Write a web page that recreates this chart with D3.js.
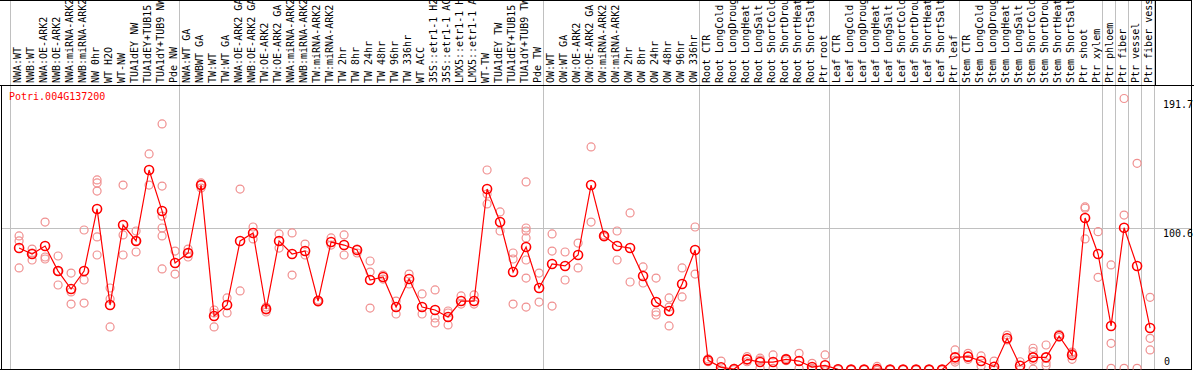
<!DOCTYPE html>
<html>
<head>
<meta charset="utf-8">
<script src="https://cdn.jsdelivr.net/npm/d3@7"></script>
<style>
  body { margin: 0; background: #fff; }
  text { font-family: "DejaVu Sans Mono", monospace; font-size: 10px; }
</style>
</head>
<body>
<div id="chart"></div>
<script>
// sample names, one column each
var labels = ["NWA:WT","NWB:WT","NWA:OE-ARK2","NWB:OE-ARK2","NWA:miRNA-ARK2","NWB:miRNA-ARK2","NW 0hr","WT H2O","WT-NW","TUA1dEY NW","TUA1dEY+TUB15 NW","TUA1dY+TUB9 NW","Pde NW",
  "NWA:WT GA","NWBWT GA","TW:WT","TW:WT GA","NWA:OE-ARK2 GA","NWB:OE-ARK2 GA","TW:OE-ARK2","TW:OE-ARK2 GA","NWA:miRNA-ARK2","NWB:miRNA-ARK2","TW:miRNA-ARK2","TW:miRNA-ARK2",
  "TW 2hr","TW 8hr","TW 24hr","TW 48hr","TW 96hr","TW 336hr","WT ACC","35S::etr1-1 H2O","35S::etr1-1 ACC","LMX5::etr1-1 H2O","LMX5::etr1-1 ACC","WT-TW","TUA1dEY TW","TUA1dEY+TUB15 TW","TUA1dY+TUB9 TW","Pde TW",
  "OW:WT","OW:WT GA","OW:OE-ARK2","OW:OE-ARK2 GA","OW:miRNA-ARK2","OW:miRNA-ARK2","OW 2hr","OW 8hr","OW 24hr","OW 48hr","OW 96hr","OW 336hr",
  "Root CTR","Root LongCold","Root LongDrought","Root LongHeat","Root LongSalt","Root ShortCold","Root ShortDrought","Root ShortHeat","Root ShortSalt","Ptr root",
  "Leaf CTR","Leaf LongCold","Leaf LongDrought","Leaf LongHeat","Leaf LongSalt","Leaf ShortCold","Leaf ShortDrought","Leaf ShortHeat","Leaf ShortSalt","Ptr leaf",
  "Stem CTR","Stem LongCold","Stem LongDrought","Stem LongHeat","Stem LongSalt","Stem ShortCold","Stem ShortDrought","Stem ShortHeat","Stem ShortSalt","Ptr shoot","Ptr xylem",
  "Ptr phloem","Ptr fiber","Ptr vessel","Ptr fiber vessel"];

// how many columns in each block (gray separators between them)
var groupSizes = [13, 28, 12, 10, 10, 11, 1, 1, 1, 1];

var meanValues = [86.5, 82.3, 87.9, 70.3, 57.7, 70.3, 114.0, 46.4, 102.7, 91.5, 141.4, 112.6, 76.0,
  83.0, 130.8, 38.7, 46.4, 91.5, 97.1, 43.6, 91.5, 82.3, 84.4, 49.2, 90.7, 88.6, 85.1, 64.0, 66.1, 45.0, 64.7, 45.0, 42.9, 38.0, 49.2, 49.2, 128.0, 104.8, 69.6, 87.2, 58.4,
  75.3, 73.9, 81.6, 130.8, 95.0, 87.9, 86.5, 66.8, 48.5, 42.2, 61.2, 85.1,
  7.5, 2.6, 1.4, 8.2, 6.3, 6.3, 8.2, 7.0, 2.8, 4.0,
  1.2, 1.0, 1.0, 1.3, 1.0, 1.0, 1.0, 1.0, 1.0, 9.6,
  10.1, 7.0, 3.0, 23.0, 3.7, 9.6, 9.6, 24.6, 11.3, 107.6, 82.3,
  31.7, 100.8, 73.9, 30.2];

var replicateValues = [[95.0, 91.5, 72.5], [85.8, 83.0, 78.1], [104.8, 80.2, 78.8], [80.9, 60.5, 70.3], [68.9, 55.6, 47.1], [99.2, 64.0, 47.8],
  [134.4, 132.3, 126.6, 94.3, 81.6], [58.4, 50.7, 31.0], [130.8, 95.7, 81.6], [98.5, 91.5, 83.7], [152.7, 130.8], [173.8, 130.1, 109.0, 100.6, 95.0, 71.8], [84.4, 68.2],
  [85.8, 83.0, 80.2], [132.3, 130.8, 128.7], [42.9, 40.8, 31.0], [51.4, 40.8], [128.0, 56.3], [101.3, 92.9], [45.0, 42.9, 41.5], [96.4, 86.5], [97.1, 67.5], [89.3, 81.6],
  [49.9, 48.5], [93.6, 88.6], [95.7, 81.6], [85.8, 83.0], [77.4, 69.6, 44.3], [67.5, 64.7], [49.2, 40.1], [68.2, 61.2], [54.2, 40.1], [57.0, 37.3, 33.8], [42.2, 40.8, 32.4],
  [52.8, 47.1], [53.5, 47.1], [141.4, 124.5, 117.5], [111.9, 98.5], [83.0, 78.8, 47.1], [133.0, 100.6, 98.5, 93.6, 78.1, 65.4, 45.0], [68.9, 48.5],
  [96.4, 84.4, 45.7], [83.7, 64.0], [90.0, 72.5], [157.6, 104.8], [95.7, 94.3], [98.5, 78.1], [111.2, 62.6], [73.2, 61.9], [65.4, 41.5, 39.4], [51.4, 45.0, 31.7], [72.5, 52.1], [101.3, 68.2],
  [8.5, 6.5], [7.0, 0.5, 0.3], [1.0, 1.8], [10.1, 6.5], [7.7, 9.0, 2.2], [11.3, 1.9], [8.9, 7.2], [12.4, 1.9], [5.4, 1.9, 1.0], [11.3, 0.5, 0.3],
  [1.5, 0.9], [1.2, 0.8], [1.1, 0.9], [3.2, 0.5], [1.2, 0.8], [1.1, 0.9], [1.2, 0.8], [1.1, 0.9], [1.2, 0.8], [14.8, 6.3, 7.7],
  [12.4, 8.2], [10.6, 3.5], [7.0, 1.0, 1.0], [25.3, 21.8], [6.5, 1.0], [16.0, 13.6, 7.5, 1.3], [18.3, 5.8, 3.7], [25.8, 23.7], [12.4, 8.2, 13.3], [115.4, 92.9, 114.5], [98.0, 65.9],
  [74.6, 19.5, 1.9], [191.7, 109.7, 1.9], [146.1, 1.9], [51.8, 23.0, 14.8]];

var yTicks = [0, 100.6, 191.7];
var geneName = "Potri.004G137200";

const width = ( 1194 );
const height = ( 370 );
const colW = ( 13 );
const left = ( 10.5 );
const headerH = ( 85.5 );
const bottom = ( 369.5 );
const boxRight = ( 1191.5 );
const pointOffset = ( 0.66 ); // points sit a bit right of the column middle

var svg = d3.select("#chart")
  .append("svg")
  .attr("width", width)
  .attr("height", height);

var x = d3.scaleLinear().domain([0, labels.length]).range([left, left + colW * labels.length]);
var y = d3.scaleLinear().domain([0, d3.max(yTicks)]).range([371, 98.5]);

// group boundaries
var bounds = [0];
groupSizes.forEach(function(s) { bounds.push(bounds[bounds.length - 1] + s); });

svg.append("defs").append("clipPath").attr("id", "plotclip")
  .append("rect")
  .attr("x", 2).attr("y", headerH)
  .attr("width", boxRight - 2).attr("height", bottom - headerH);

// gray grid lines
svg.append("g")
  .selectAll("line")
  .data(yTicks.filter(function(d) { return d > 0 && d < d3.max(yTicks); }))
  .enter()
  .append("line")
  .attr("x1", 2).attr("x2", boxRight)
  .attr("y1", function(d) { return Math.round(y(d)) + 0.5; })
  .attr("y2", function(d) { return Math.round(y(d)) + 0.5; })
  .style("stroke", "#c0c0c0")
  .style("shape-rendering", "crispEdges");

svg.append("g")
  .selectAll("line")
  .data(bounds)
  .enter()
  .append("line")
  .attr("x1", function(d) { return x(d); })
  .attr("x2", function(d) { return x(d); })
  .attr("y1", 0).attr("y2", bottom)
  .style("stroke", "#c0c0c0")
  .style("shape-rendering", "crispEdges");

// column labels, rotated
svg.append("g")
  .selectAll("text")
  .data(labels)
  .enter()
  .append("text")
  .attr("transform", function(d, i) { return "translate(" + (x(i) + 10.5) + "," + 83 + ") rotate(-90)"; })
  .style("fill", "black")
  .text(function(d) { return d; });

// black frame
var frame = svg.append("g").style("stroke", "black").style("shape-rendering", "crispEdges");
frame.append("line").attr("x1", 0).attr("x2", width).attr("y1", headerH).attr("y2", headerH);
frame.append("line").attr("x1", 0).attr("x2", boxRight).attr("y1", bottom).attr("y2", bottom);
frame.append("line").attr("x1", 1.5).attr("x2", 1.5).attr("y1", headerH).attr("y2", bottom);
frame.append("line").attr("x1", boxRight).attr("x2", boxRight).attr("y1", 0).attr("y2", bottom);
frame.append("line").attr("x1", x(labels.length) + 1).attr("x2", x(labels.length) + 1).attr("y1", 0).attr("y2", headerH);
frame.append("line").attr("x1", 0).attr("x2", boxRight).attr("y1", 0.5).attr("y2", 0.5);

// y labels on the right
svg.append("g")
  .selectAll("text")
  .data(yTicks)
  .enter()
  .append("text")
  .attr("x", function(d) { return d == 0 ? 1164 : 1163; })
  .attr("y", function(d) { return d == 0 ? y(d) - 6 : y(d) + 9.5; })
  .style("fill", "black")
  .text(function(d) { return d; });

svg.append("text")
  .attr("x", 9)
  .attr("y", 100)
  .style("fill", "red")
  .text(geneName);

var plot = svg.append("g").attr("clip-path", "url(#plotclip)");

// replicates
var reps = [];
replicateValues.forEach(function(r, i) { r.forEach(function(v) { reps.push({i: i, v: v}); }); });

plot.append("g")
  .selectAll("circle")
  .data(reps)
  .enter()
  .append("circle")
  .attr("cx", function(d) { return x(d.i + pointOffset); })
  .attr("cy", function(d) { return y(d.v); })
  .attr("r", 4)
  .style("fill", "none")
  .style("stroke", "#f09090")
  .style("stroke-width", 1.2);

var line = d3.line()
  .x(function(d, i) { return x(i + pointOffset); })
  .y(function(d) { return y(d); });

plot.append("path")
  .datum(meanValues)
  .attr("d", line)
  .style("fill", "none")
  .style("stroke", "red")
  .style("stroke-width", 1.2);

plot.append("g")
  .selectAll("circle")
  .data(meanValues)
  .enter()
  .append("circle")
  .attr("cx", function(d, i) { return x(i + pointOffset); })
  .attr("cy", function(d) { return y(d); })
  .attr("r", 4.5)
  .style("fill", "none")
  .style("stroke", "red")
  .style("stroke-width", 1.6);
</script>
</body>
</html>
